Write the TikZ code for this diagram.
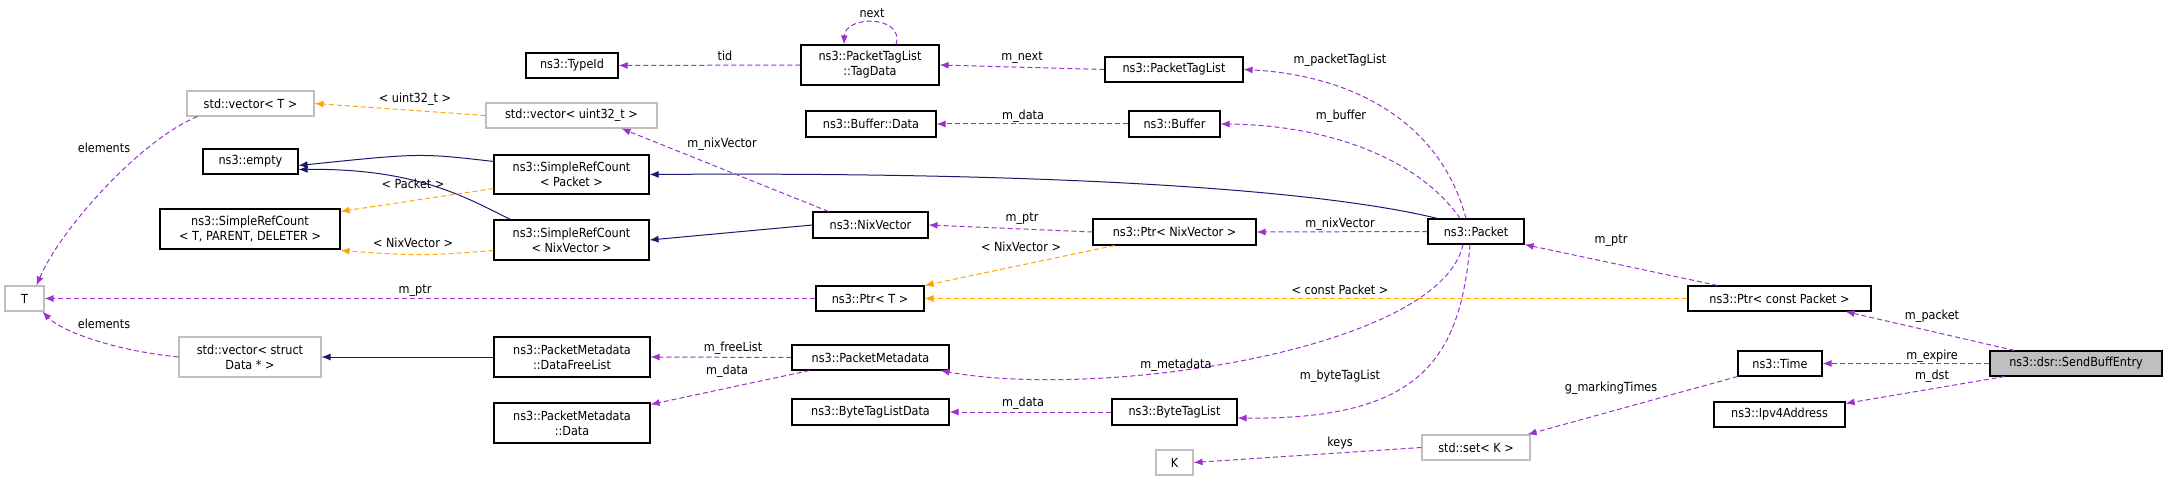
\documentclass[tikz,border=0pt]{standalone}
\usepackage{fontspec}
\setmainfont{DejaVu Sans Condensed}
\usetikzlibrary{arrows.meta,calc}
\definecolor{pur}{HTML}{9A32CD}
\definecolor{org}{HTML}{FFA500}
\definecolor{nav}{HTML}{191970}
\tikzset{
 box/.style={draw=black,line width=1.1pt,rectangle,inner sep=0pt,align=center,font=\fontsize{12.5}{15}\selectfont},
 gbox/.style={box,draw=black!25},
 sel/.style={box,fill=black!25},
 rel/.style={draw=pur,line width=1pt,dash pattern=on 5pt off 3pt,-{Latex[length=9pt,width=7pt]}},
 tmpl/.style={rel,draw=org},
 inh/.style={draw=nav,line width=1pt,-{Latex[length=9pt,width=7pt]}},
 lbl/.style={font=\fontsize{12.5}{14}\selectfont,inner sep=0pt}
}
\newcommand\bx[7][box]{\node[#1,minimum width={(#5-#3)*1pt},minimum height={(#6-#4)*1pt}] (#2) at ({(#3+#5)/2},{-(#4+#6)/2}) {#7};}
\begin{document}
\begin{tikzpicture}[x=1pt,y=1pt]
\useasboundingbox (0,0) rectangle (2168,-481);
% nodes
\bx{tid}{526}{53}{618}{78}{ns3::TypeId}
\bx[gbox]{vt}{187}{91}{314}{116}{std::vector< T >}
\bx[gbox]{vu}{486}{103}{657}{128}{std::vector< uint32\_t >}
\bx{emp}{203}{149}{298}{174}{ns3::empty}
\bx{srp}{494}{155}{649}{194}{ns3::SimpleRefCount\\< Packet >}
\bx{srt}{160}{209}{340}{249}{ns3::SimpleRefCount\\< T, PARENT, DELETER >}
\bx{srn}{494}{220}{649}{260}{ns3::SimpleRefCount\\< NixVector >}
\bx[gbox]{T}{5}{286}{44}{311}{T}
\bx[gbox]{vd}{179}{337}{321}{377}{std::vector< struct\\Data * >}
\bx{dfl}{494}{337}{650}{377}{ns3::PacketMetadata\\::DataFreeList}
\bx{pmd}{494}{403}{650}{443}{ns3::PacketMetadata\\::Data}
\bx{td}{801}{45}{939}{85}{ns3::PacketTagList\\::TagData}
\bx{ptl}{1105}{57}{1243}{82}{ns3::PacketTagList}
\bx{bd}{806}{111}{936}{137}{ns3::Buffer::Data}
\bx{buf}{1129}{111}{1220}{137}{ns3::Buffer}
\bx{nix}{813}{212}{928}{238}{ns3::NixVector}
\bx{pn}{1093}{219}{1256}{245}{ns3::Ptr< NixVector >}
\bx{pt}{816}{286}{924}{311}{ns3::Ptr< T >}
\bx{pm}{792}{345}{949}{370}{ns3::PacketMetadata}
\bx{btd}{792}{399}{949}{425}{ns3::ByteTagListData}
\bx{btl}{1112}{399}{1237}{425}{ns3::ByteTagList}
\bx[gbox]{K}{1156}{450}{1193}{475}{K}
\bx{pk}{1428}{219}{1524}{244}{ns3::Packet}
\bx{pcp}{1688}{286}{1871}{311}{ns3::Ptr< const Packet >}
\bx{tm}{1738}{351}{1822}{376}{ns3::Time}
\bx[sel]{sbe}{1990}{351}{2162}{376}{ns3::dsr::SendBuffEntry}
\bx{ip}{1714}{402}{1845}{427}{ns3::Ipv4Address}
\bx[gbox]{sk}{1422}{435}{1530}{460}{std::set< K >}
% edges
\draw[rel] (td.west) -- (tid.east);
\draw[rel] ($(td.north)+(26,0)$) .. controls (905,-15) and (845,-15) .. ($(td.north)+(-26,0)$);
\draw[rel] (ptl.west) -- (td.east);
\draw[rel] ($(pk.north)+(-10,0)$) .. controls (1440,-120) and (1350,-75) .. (ptl.east);
\draw[rel] (buf.west) -- (bd.east);
\draw[rel] ($(pk.north)+(-16,0)$) .. controls (1420,-160) and (1330,-125) .. (buf.east);
\draw[inh] ($(pk.north west)+(10,0)$) .. controls (1300,-185) and (1000,-172) .. (srp.east);
\draw[inh] ($(srp.north west)+(0,-7)$) .. controls (420,-153) .. ($(emp.east)+(0,-4)$);
\draw[inh] ($(srn.north west)+(17,0)$) .. controls (470,-200) and (420,-168) .. ($(emp.east)+(0,-8)$);
\draw[inh] (nix.west) -- (srn.east);
\draw[tmpl] ($(srp.south west)+(0,6)$) -- ($(srt.north east)+(0,-3)$);
\draw[tmpl] ($(srn.south west)+(0,10)$) .. controls (420,-256) .. ($(srt.south east)+(0,-1)$);
\draw[tmpl] (vu.west) -- (vt.east);
\draw[rel] ($(nix.north)+(-42,0)$) -- ($(vu.south)+(50,0)$);
\draw[rel] ($(vt.south west)+(11,0)$) .. controls (140,-140) and (60,-230) .. ($(T.north)+(12,0)$);
\draw[rel] (vd.west) .. controls (110,-350) and (60,-330) .. ($(T.south)+(18,0)$);
\draw[rel] (pt.west) -- (T.east);
\draw[inh] (dfl.west) -- (vd.east);
\draw[rel] (pm.west) -- (dfl.east);
\draw[rel] ($(pm.south west)+(18,0)$) -- ($(pmd.north east)+(0,-2)$);
\draw[rel] (pn.west) -- (nix.east);
\draw[rel] (pk.west) -- (pn.east);
\draw[tmpl] ($(pn.south west)+(22,0)$) -- (pt.north east);
\draw[tmpl] (pcp.west) -- (pt.east);
\draw[rel] ($(pk.south)+(-13,0)$) .. controls (1440,-350) and (1100,-400) .. ($(pm.south east)+(-9,0)$);
\draw[rel] ($(pk.south)+(-6,0)$) .. controls (1460,-360) and (1420,-420) .. ($(btl.east)+(0,-6)$);
\draw[rel] (btl.west) -- (btd.east);
\draw[rel] (sk.west) -- (K.east);
\draw[rel] ($(pcp.north west)+(30,0)$) -- (pk.south east);
\draw[rel] ($(sbe.north west)+(25,0)$) -- ($(pcp.south east)+(-26,0)$);
\draw[rel] (sbe.west) -- (tm.east);
\draw[rel] ($(sbe.south west)+(15,0)$) -- ($(ip.north east)+(0,-2)$);
\draw[rel] (tm.south west) -- ($(sk.north east)+(-3,0)$);
% labels
\node[lbl] (l1) at (725,-56) {tid};
\node[lbl] (l2) at (872,-13) {next};
\node[lbl] (l3) at (1022,-58) {m\_next};
\node[lbl] (l4) at (1340,-60) {m\_packetTagList};
\node[lbl] (l5) at (1023,-116) {m\_data};
\node[lbl] (l6) at (1341,-116) {m\_buffer};
\node[lbl] (l7) at (413,-184) {< Packet >};
\node[lbl] (l8) at (413,-243) {< NixVector >};
\node[lbl] (l9) at (415,-99) {< uint32\_t >};
\node[lbl] (l10) at (722,-144) {m\_nixVector};
\node[lbl] (l11) at (104,-148) {elements};
\node[lbl] (l12) at (104,-324) {elements};
\node[lbl] (l13) at (415,-291) {m\_ptr};
\node[lbl] (l14) at (733,-348) {m\_freeList};
\node[lbl] (l15) at (727,-371) {m\_data};
\node[lbl] (l16) at (1022,-219) {m\_ptr};
\node[lbl] (l17) at (1340,-224) {m\_nixVector};
\node[lbl] (l18) at (1021,-247) {< NixVector >};
\node[lbl] (l19) at (1340,-290) {< const Packet >};
\node[lbl] (l20) at (1176,-365) {m\_metadata};
\node[lbl] (l21) at (1340,-376) {m\_byteTagList};
\node[lbl] (l22) at (1023,-403) {m\_data};
\node[lbl] (l23) at (1340,-443) {keys};
\node[lbl] (l24) at (1611,-241) {m\_ptr};
\node[lbl] (l25) at (1932,-316) {m\_packet};
\node[lbl] (l26) at (1932,-356) {m\_expire};
\node[lbl] (l27) at (1932,-376) {m\_dst};
\node[lbl] (l28) at (1611,-388) {g\_markingTimes};
\end{tikzpicture}
\end{document}
